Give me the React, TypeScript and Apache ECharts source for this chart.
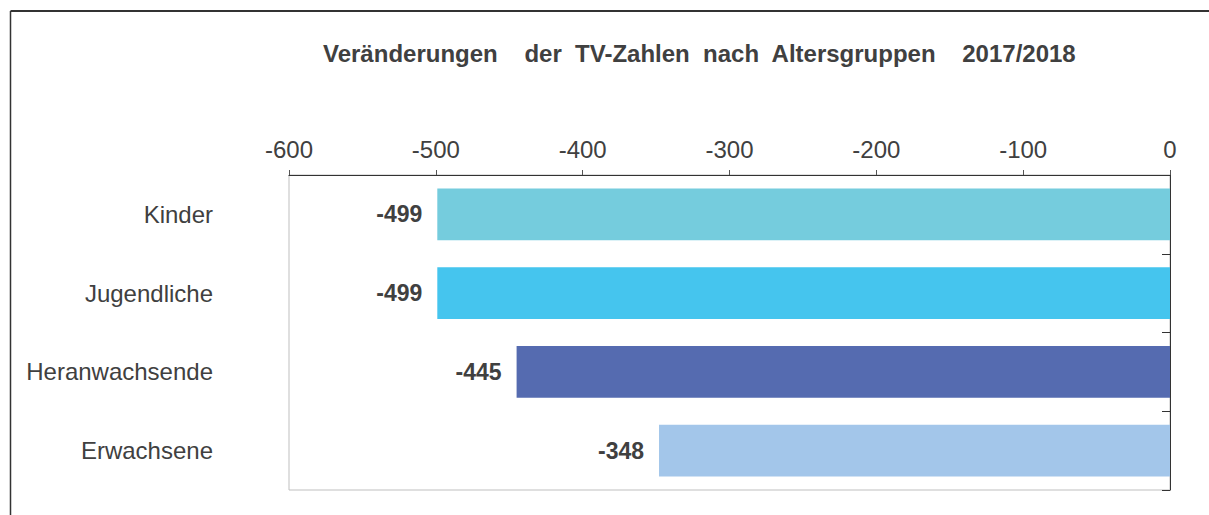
import React, { useEffect, useRef } from "react";
import * as echarts from "echarts";

const categories = ["Kinder", "Jugendliche", "Heranwachsende", "Erwachsene"];
const values = [-499, -499, -445, -348];
const barColors = ["#75CCDD", "#45C5EE", "#556BB0", "#A3C6EA"];
const titleText = "Veränderungen    der  TV-Zahlen  nach  Altersgruppen    2017/2018";

export default function App() {
  const ref = useRef<HTMLDivElement>(null);
  useEffect(() => {
    document.body.style.margin = "0";
    const chart = echarts.init(ref.current!, null, { renderer: "svg" });
    const font = "'Liberation Sans', Arial, sans-serif";
    chart.setOption({
      animation: false,
      backgroundColor: "#ffffff",
      title: {
        text: titleText,
        left: 318,
        top: 36,
        textStyle: {
          fontFamily: font,
          fontSize: 24,
          fontWeight: "bold",
          color: "#404040",
        },
      },
      graphic: [
        {
          type: "line",
          shape: { x1: 10.5, y1: 11, x2: 1209, y2: 11 },
          style: { stroke: "#333333", lineWidth: 2 },
        },
        {
          type: "line",
          shape: { x1: 10.5, y1: 11, x2: 10.5, y2: 515 },
          style: { stroke: "#333333", lineWidth: 1.5 },
        },
      ],
      grid: {
        left: 289,
        right: 39,
        top: 175,
        bottom: 25,
        show: true,
        borderColor: "#BFBFBF",
        borderWidth: 1,
        containLabel: false,
      },
      xAxis: {
        type: "value",
        position: "top",
        min: -600,
        max: 0,
        interval: 100,
        splitLine: { show: false },
        axisLine: { show: true, lineStyle: { color: "#333333", width: 1 } },
        axisTick: { show: true, inside: false, length: 5, lineStyle: { color: "#555555" } },
        axisLabel: {
          margin: 14,
          fontFamily: font,
          fontSize: 24,
          color: "#404040",
        },
      },
      yAxis: [
        {
          type: "category",
          data: categories,
          inverse: true,
          position: "left",
          axisLine: { show: true, lineStyle: { color: "#BFBFBF" } },
          axisTick: { show: false },
          axisLabel: {
            margin: 76,
            fontFamily: font,
            fontSize: 24,
            color: "#404040",
          },
        },
        {
          type: "category",
          data: categories,
          inverse: true,
          position: "right",
          axisLine: { show: true, lineStyle: { color: "#333333", width: 1 } },
          axisTick: { show: true, inside: true, length: 8, lineStyle: { color: "#333333" } },
          axisLabel: { show: false },
        },
      ],
      series: [
        {
          type: "bar",
          yAxisIndex: 0,
          barCategoryGap: "34%",
          data: values.map((v, i) => ({ value: v, itemStyle: { color: barColors[i] } })),
          label: {
            show: true,
            position: "left",
            distance: 15,
            fontFamily: font,
            fontSize: 23,
            fontWeight: "bold",
            color: "#404040",
          },
        },
      ],
    });
    return () => chart.dispose();
  }, []);
  return <div ref={ref} style={{ width: 1209, height: 515 }} />;
}
